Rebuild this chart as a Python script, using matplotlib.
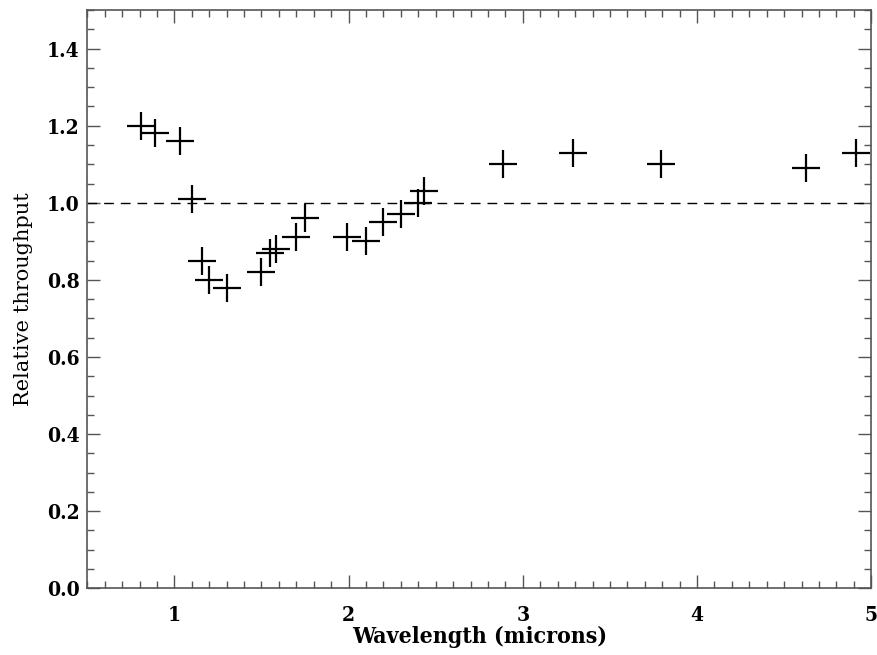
import matplotlib
matplotlib.use("Agg")
import matplotlib.pyplot as plt
from matplotlib.ticker import MultipleLocator, FormatStrFormatter

wavelength = [0.81, 0.89, 1.03, 1.10, 1.16, 1.20, 1.30, 1.50, 1.55, 1.585,
              1.70, 1.75, 1.99, 2.10, 2.20, 2.30, 2.40, 2.43, 2.885, 3.29,
              3.795, 4.625, 4.91]
throughput = [1.20, 1.18, 1.16, 1.01, 0.85, 0.80, 0.78, 0.82, 0.87, 0.88,
              0.91, 0.96, 0.91, 0.90, 0.95, 0.97, 1.00, 1.03, 1.10, 1.13,
              1.10, 1.09, 1.13]
reference_level = 1.0

plt.rcParams['font.family'] = ['DejaVu Serif']
fig = plt.figure(figsize=(8.77, 6.55), dpi=100)
ax = fig.add_axes([0.0995, 0.1018, 0.894, 0.8829])

ax.axhline(reference_level, color='black', lw=1.0, ls=(0, (7, 5)))
ax.plot(wavelength, throughput, ls='none', marker='+', ms=19.5, mew=1.6, color='black')

ax.set_xlim(0.5, 5.0)
ax.set_ylim(0.0, 1.5)
ax.xaxis.set_major_locator(MultipleLocator(1))
ax.xaxis.set_minor_locator(MultipleLocator(0.1))
ax.yaxis.set_major_locator(MultipleLocator(0.2))
ax.yaxis.set_minor_locator(MultipleLocator(0.05))
ax.yaxis.set_major_formatter(FormatStrFormatter('%.1f'))
ax.set_yticks([0.0, 0.2, 0.4, 0.6, 0.8, 1.0, 1.2, 1.4])

ax.tick_params(which='both', direction='in', top=True, right=True, color='#555555', width=1.0)
ax.tick_params(which='major', length=9.5)
ax.tick_params(which='minor', length=5)
ax.tick_params(axis='x', which='major', pad=12)
ax.tick_params(axis='y', which='major', pad=5.5)
for lab in ax.get_xticklabels() + ax.get_yticklabels():
    lab.set_fontsize(15)
    lab.set_fontweight('bold')
    lab.set_fontstretch('condensed')
for s in ax.spines.values():
    s.set_color('#555555')
    s.set_linewidth(1.2)

ax.set_xlabel('Wavelength (microns)', fontsize=16.5, fontweight='bold',
              fontstretch='condensed', labelpad=1)
ax.set_ylabel('Relative throughput', fontsize=15, labelpad=10)

fig.savefig('out.png', dpi=100)
